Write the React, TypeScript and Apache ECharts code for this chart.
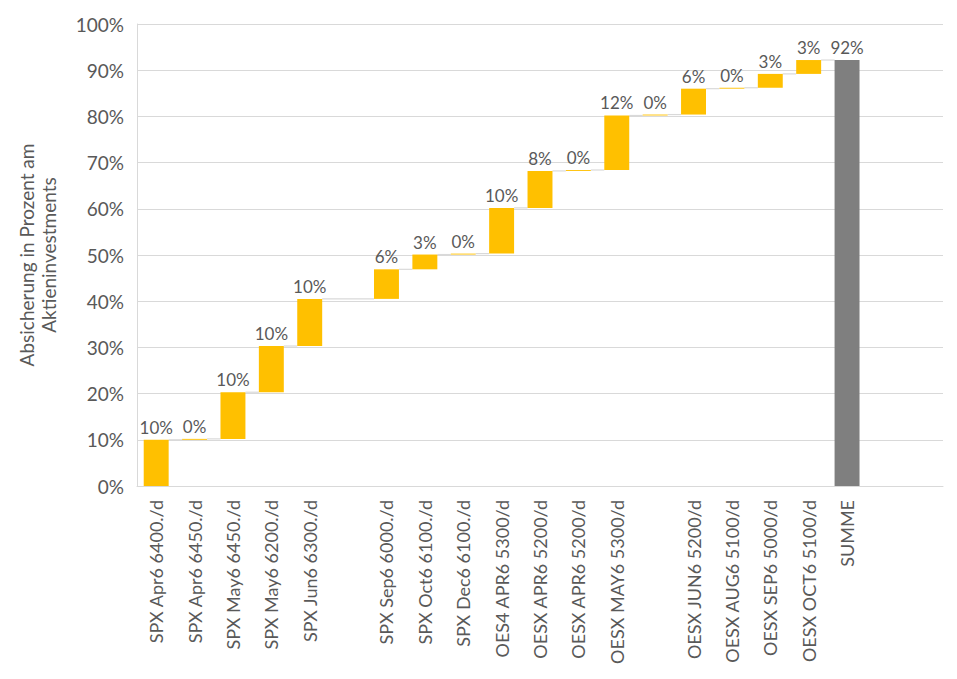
import React, { useEffect, useRef } from "react";
import * as echarts from "echarts";

const categories: string[] = [
  "SPX Apr6 6400./d",
  "SPX Apr6 6450./d",
  "SPX May6 6450./d",
  "SPX May6 6200./d",
  "SPX Jun6 6300./d",
  "",
  "SPX Sep6 6000./d",
  "SPX Oct6 6100./d",
  "SPX Dec6 6100./d",
  "OES4 APR6 5300/d",
  "OESX APR6 5200/d",
  "OESX APR6 5200/d",
  "OESX MAY6 5300/d",
  "",
  "OESX JUN6 5200/d",
  "OESX AUG6 5100/d",
  "OESX SEP6 5000/d",
  "OESX OCT6 5100/d",
  "SUMME",
  "",
  "",
];

// increments per position (null = empty slot)
const deltas: (number | null)[] = [
  10.0, 0.2, 10.1, 10.0, 10.2, null, 6.4, 3.2, 0.2, 9.9, 8.0, 0.2, 11.8, 0.2, 5.6,
  0.2, 3.0, 3.0,
];
const totalIndex = 18;

const yTicks = { min: 0, max: 100, interval: 10 };

const YELLOW = "#FFC000";
const GREY = "#7F7F7F";
const TEXT = "#595959";
const GRID = "#D9D9D9";
const FONT = "Lato, 'Open Sans', sans-serif";

export default function App() {
  const ref = useRef<HTMLDivElement>(null);

  useEffect(() => {
    if (!ref.current) return;
    const chart = echarts.init(ref.current, undefined, { renderer: "svg" });

    const n = categories.length;
    const base: (number | null)[] = new Array(n).fill(null);
    const vis: any[] = new Array(n).fill(null);
    const tops: (number | null)[] = new Array(n).fill(null);
    let cum = 0;
    deltas.forEach((d, i) => {
      if (d === null) return;
      base[i] = cum;
      vis[i] = d;
      cum += d;
      tops[i] = cum;
    });
    const total = Math.round(cum * 10) / 10;
    base[totalIndex] = 0;
    vis[totalIndex] = { value: total, itemStyle: { color: GREY } };
    tops[totalIndex] = total;

    // connector segments: from each bar's top to the next existing bar
    const connectors: number[][] = [];
    const present: number[] = [];
    tops.forEach((t, i) => {
      if (t !== null) present.push(i);
    });
    for (let k = 0; k < present.length - 1; k++) {
      const i = present[k];
      const j = present[k + 1];
      connectors.push([i, j, tops[i] as number]);
    }

    const barRatio = 0.65;

    chart.setOption({
      animation: false,
      textStyle: { fontFamily: FONT },
      grid: { left: 137, right: 14, top: 24, bottom: 193, containLabel: false },
      xAxis: {
        type: "category",
        data: categories,
        axisLine: { show: true, lineStyle: { color: GRID, width: 1 } },
        axisTick: { show: false },
        axisLabel: {
          interval: 0,
          rotate: 90,
          color: TEXT,
          fontSize: 18,
          fontFamily: FONT,
          margin: 14,
        },
        splitLine: { show: false },
      },
      yAxis: {
        type: "value",
        min: yTicks.min,
        max: yTicks.max,
        interval: yTicks.interval,
        name: "Absicherung in Prozent am\nAktieninvestments",
        nameLocation: "middle",
        nameRotate: 90,
        nameGap: 78,
        nameTextStyle: {
          color: TEXT,
          fontSize: 19,
          fontFamily: FONT,
          lineHeight: 22,
        },
        axisLine: { show: true, lineStyle: { color: GRID, width: 1 } },
        axisTick: { show: false },
        axisLabel: {
          color: TEXT,
          fontSize: 19,
          fontFamily: FONT,
          margin: 13,
          formatter: "{value}%",
        },
        splitLine: { show: true, lineStyle: { color: GRID, width: 1 } },
      },
      series: [
        {
          type: "bar",
          stack: "wf",
          data: base,
          barCategoryGap: "35%",
          itemStyle: { color: "transparent" },
          emphasis: { disabled: true },
          silent: true,
        },
        {
          type: "bar",
          stack: "wf",
          data: vis,
          barCategoryGap: "35%",
          itemStyle: { color: YELLOW },
          label: {
            show: true,
            position: "top",
            distance: 4,
            color: TEXT,
            fontSize: 17,
            fontFamily: FONT,
            formatter: (p: any) => Math.round(p.value) + "%",
          },
        },
        {
          type: "custom",
          data: connectors,
          encode: { x: 0, y: 2 },
          silent: true,
          z: 1,
          renderItem: (params: any, api: any) => {
            const i = api.value(0);
            const j = api.value(1);
            const lvl = api.value(2);
            const w = api.size([1, 0])[0];
            const half = (w * barRatio) / 2;
            const p1 = api.coord([i, lvl]);
            const p2 = api.coord([j, lvl]);
            return {
              type: "line",
              shape: { x1: p1[0] + half, y1: p1[1], x2: p2[0] - half, y2: p2[1] },
              style: { stroke: GRID, lineWidth: 1.2 },
            };
          },
        },
      ],
    });

    return () => chart.dispose();
  }, []);

  return (
    <div
      ref={ref}
      style={{ position: "absolute", left: 0, top: 0, width: 957, height: 679, background: "#fff" }}
    />
  );
}
